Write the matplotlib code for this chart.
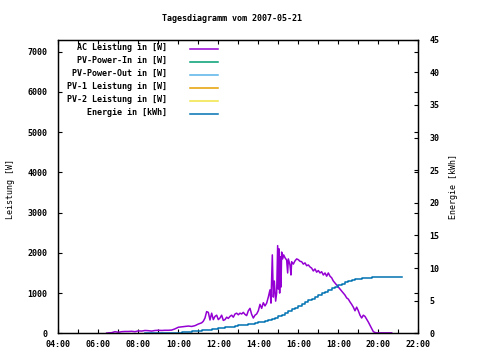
import matplotlib
matplotlib.use("Agg")
import matplotlib.pyplot as plt
from matplotlib.lines import Line2D
from matplotlib.ticker import MultipleLocator, FuncFormatter

plt.rcParams['font.family'] = ['DejaVu Sans Mono']
plt.rcParams['font.size'] = 6
plt.rcParams['font.weight'] = 'bold'

# AC-Leistung in W (Uhrzeit, Wert)
ac_zeit = ["06:25", "06:30", "06:40", "06:50", "07:00", "07:10", "07:20", "07:30", "07:40", "07:50",
           "08:00", "08:10", "08:20", "08:30", "08:40", "08:50", "09:00", "09:10", "09:20", "09:30",
           "09:40", "09:50", "10:00", "10:10", "10:20", "10:30", "10:40", "10:50", "11:00", "11:10",
           "11:15", "11:20", "11:25", "11:30", "11:35", "11:40", "11:45", "11:50", "11:55", "12:00",
           "12:05", "12:10", "12:15", "12:20", "12:25", "12:30", "12:35", "12:40", "12:45", "12:50",
           "12:55", "13:00", "13:05", "13:10", "13:15", "13:20", "13:25", "13:30", "13:35", "13:40",
           "13:45", "13:50", "13:55", "14:00", "14:05", "14:10", "14:15", "14:20", "14:25", "14:30",
           "14:35", "14:38", "14:42", "14:45", "14:48", "14:52", "14:55", "14:58", "15:00", "15:02",
           "15:04", "15:06", "15:08", "15:10", "15:13", "15:16", "15:20", "15:25", "15:28", "15:30",
           "15:35", "15:38", "15:40", "15:45", "15:50", "15:55", "16:00", "16:05", "16:10", "16:15",
           "16:20", "16:25", "16:30", "16:35", "16:40", "16:45", "16:50", "16:55", "17:00", "17:05",
           "17:10", "17:15", "17:20", "17:25", "17:30", "17:35", "17:40", "17:45", "17:50", "17:55",
           "18:00", "18:05", "18:10", "18:15", "18:20", "18:25", "18:30", "18:35", "18:40", "18:45",
           "18:50", "18:55", "19:00", "19:05", "19:10", "19:15", "19:20", "19:25", "19:30", "19:35",
           "19:40", "19:45", "19:50", "19:55", "20:00", "20:20", "20:40"]
ac_wert = [5, 10, 15, 40, 25, 40, 45, 45, 50, 40,
           60, 55, 70, 65, 55, 70, 75, 70, 75, 75,
           80, 110, 150, 160, 170, 180, 170, 190, 230, 260,
           300, 380, 540, 520, 330, 500, 340, 420, 450, 340,
           380, 450, 320, 340, 400, 370, 420, 450, 400, 480,
           500, 460, 500, 480, 520, 470, 440, 560, 620, 470,
           380, 450, 480, 560, 720, 620, 760, 680, 750, 900,
           1080, 750, 1950, 900, 1300, 800, 1000, 2180, 1100, 2100,
           1000, 1900, 1150, 2020, 1850, 1950, 1880, 1820, 1500, 1850,
           1700, 1450, 1780, 1720, 1800, 1850, 1830, 1790, 1780, 1720,
           1750, 1680, 1700, 1650, 1620, 1550, 1600, 1520, 1560, 1500,
           1530, 1450, 1500, 1420, 1500, 1420, 1380, 1300, 1250, 1200,
           1150, 1100, 1050, 1000, 950, 880, 850, 780, 720, 650,
           560, 650, 560, 450, 380, 450, 420, 350, 280, 200,
           120, 40, 20, 10, 10, 10, 10]

# Energie in kWh
en_zeit = ["08:20", "09:00", "09:40", "09:50", "10:00", "10:10", "10:20", "10:30", "10:40", "10:50",
           "11:00", "11:10", "11:20", "11:30", "11:40", "11:50", "12:00", "12:10", "12:20", "12:30",
           "12:40", "12:50", "13:00", "13:10", "13:20", "13:30", "13:40", "13:50", "14:00", "14:10",
           "14:20", "14:30", "14:40", "14:50", "15:00", "15:10", "15:20", "15:30", "15:40", "15:50",
           "16:00", "16:10", "16:20", "16:30", "16:40", "16:50", "17:00", "17:10", "17:20", "17:30",
           "17:40", "17:50", "18:00", "18:10", "18:20", "18:30", "18:40", "18:50", "19:00", "19:10",
           "19:20", "19:30", "19:40", "19:50", "20:00", "21:10"]
en_wert = [0.0, 0.0, 0.05, 0.1, 0.1, 0.15, 0.2, 0.25, 0.3, 0.35,
           0.4, 0.45, 0.5, 0.55, 0.65, 0.7, 0.8, 0.85, 0.9, 0.95,
           1.0, 1.1, 1.2, 1.25, 1.3, 1.4, 1.5, 1.6, 1.7, 1.8,
           1.9, 2.05, 2.2, 2.4, 2.6, 2.85, 3.1, 3.4, 3.7, 3.95,
           4.2, 4.5, 4.8, 5.05, 5.3, 5.6, 5.9, 6.15, 6.4, 6.65,
           6.9, 7.15, 7.4, 7.6, 7.8, 7.95, 8.1, 8.25, 8.35, 8.45,
           8.5, 8.55, 8.58, 8.6, 8.6, 8.6]

# Reihen ohne Werte an diesem Tag
pv_in = []
pv_out = []
pv1 = []
pv2 = []

serien = ["AC Leistung in [W]", "PV-Power-In in [W]", "PV-Power-Out in [W]",
          "PV-1 Leistung in [W]", "PV-2 Leistung in [W]", "Energie in [kWh]"]
farben = ["#9400d3", "#009e73", "#56b4e9", "#e69f00", "#f0e442", "#0072b2"]


def stunden(t):
    h, m = t.split(":")
    return int(h) + int(m) / 60


fig = plt.figure(figsize=(4.8, 3.6), dpi=100)
ax = fig.add_axes([0.1215, 0.0742, 0.75, 0.8155])
ax2 = ax.twinx()

ax.plot([stunden(t) for t in ac_zeit], ac_wert, color=farben[0], lw=1.1)
ax.plot(pv_in, pv_in, color=farben[1])
ax.plot(pv_out, pv_out, color=farben[2])
ax.plot(pv1, pv1, color=farben[3])
ax.plot(pv2, pv2, color=farben[4])
ax2.plot([stunden(t) for t in en_zeit], en_wert, color=farben[5], lw=1.1,
         drawstyle="steps-post")

ax.set_xlim(4, 22)
ax.set_ylim(0, 7300)
ax2.set_ylim(0, 45)

ax.xaxis.set_major_locator(MultipleLocator(2))
ax.xaxis.set_minor_locator(MultipleLocator(1))
ax.xaxis.set_major_formatter(FuncFormatter(lambda v, p: "%02d:00" % int(v)))
ax.yaxis.set_major_locator(MultipleLocator(1000))
ax2.yaxis.set_major_locator(MultipleLocator(5))

ax.tick_params(axis="x", which="both", direction="in", top=True, length=3, width=0.8, pad=5)
ax.tick_params(axis="y", direction="in", right=True, length=3, width=0.8, pad=8)
ax2.tick_params(axis="y", direction="in", length=3, width=0.8, pad=8)

for a in (ax, ax2):
    for s in a.spines.values():
        s.set_linewidth(0.9)

ax.set_ylabel("Leistung [W]")
ax.yaxis.set_label_coords(-0.12, 0.49)
ax2.set_ylabel("Energie [kWh]")
ax2.yaxis.set_label_coords(1.085, 0.5)

fig.text(0.4833, 0.948, "Tagesdiagramm vom 2007-05-21", ha="center", va="center")

# Legende wie bei gnuplot: Text rechtsbuendig, Linie dahinter
for i, (name, c) in enumerate(zip(serien, farben)):
    y = 1 - (9.6 + 13 * i) / 293.6
    ax.text((167 - 58.3) / 360, y + 1.8 / 293.6, name, transform=ax.transAxes,
            ha="right", va="center")
    ax.add_line(Line2D([(190 - 58.3) / 360, (218 - 58.3) / 360], [y, y],
                transform=ax.transAxes, color=c, lw=1.1))

fig.savefig("out.png", dpi=100)
